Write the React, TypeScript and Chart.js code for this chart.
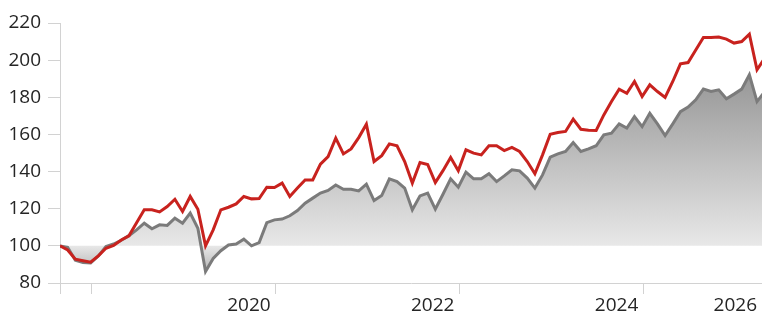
import { useEffect, useRef } from 'react';
import { Chart, registerables } from 'chart.js';

Chart.register(...registerables);

// Monthly index values, both series rebased to 100 at the first observation
const fund = [
  100, 97.8, 92.8, 92, 91.2, 94.6, 98.7, 100.2, 103.2, 105.4,
  112.5, 119.4, 119.4, 118.3, 121.2, 125.1, 118.5, 126.6, 119.7, 100,
  108.6, 119.4, 120.8, 122.6, 126.6, 125.3, 125.5, 131.6, 131.4, 133.8,
  126.6, 131.1, 135.5, 135.5, 144, 148.1, 158, 149.5, 152.2, 158.3,
  165.5, 145.4, 148.6, 154.9, 153.9, 145.4, 133.8, 144.9, 143.8, 134.1,
  140.5, 147.6, 140.5, 151.7, 149.9, 149, 153.9, 153.9, 151.3, 153,
  150.8, 145.4, 138.8, 149, 160.1, 161, 161.6, 168.2, 162.8, 162.3,
  162.1, 170.5, 177.7, 184.4, 182.2, 188.5, 180.4, 186.7, 183.1, 179.9,
  188.5, 198, 198.7, 205.5, 212.2, 212.2, 212.4, 211.3, 209.2, 210,
  214, 194.8, 201,
];

const benchmark = [
  100, 99.2, 92.3, 91, 90.8, 94.5, 99.6, 101, 103, 105.5,
  108.6, 112.2, 109.2, 111.3, 111, 114.9, 112.2, 117.6, 109.5, 86.2,
  93.2, 97.4, 100.5, 101, 103.6, 100, 101.8, 112.5, 114, 114.4,
  116.2, 119, 123, 125.7, 128.4, 129.8, 132.8, 130.5, 130.5, 129.6,
  133.2, 124.4, 127.1, 136.1, 134.6, 131.1, 119.4, 126.9, 128.4, 119.8,
  127.8, 136.1, 131.6, 139.7, 136.1, 136.1, 138.8, 134.6, 137.7, 141,
  140.4, 136.5, 131.1, 138.2, 147.8, 149.5, 150.8, 155.6, 150.8, 152.2,
  153.9, 159.8, 160.7, 165.7, 163.4, 169.6, 164.2, 171.4, 165.7, 159.4,
  165.7, 172.3, 174.7, 178.6, 184.4, 183.1, 184, 179.2, 181.7, 184.4,
  192.1, 177.7, 183,
];

// x axis: months since the first observation; tick marks at year starts
const xMax = 91.65;
const xTickMonths = [0, 4.15, 28.15, 52.15, 76.15, xMax];
const xTickLabels = ['', '', '2020', '2022', '2024', '2026'];

const yMin = 80;
const yMax = 220;
const yStep = 20;
const baseline = 100;

export default function App() {
  const ref = useRef<HTMLCanvasElement>(null);

  useEffect(() => {
    const canvas = ref.current;
    if (!canvas) return;
    const font = { family: '"Open Sans", sans-serif', size: 19 };
    const axisGray = '#d2d2d2';
    const textColor = '#252525';

    const fillGradient = (ctx: any) => {
      const chart = ctx.chart;
      const area = chart.chartArea;
      const ys = chart.scales?.y;
      if (!area || !ys) return 'rgba(180,180,180,0.6)';
      const g = chart.ctx.createLinearGradient(0, area.top, 0, area.bottom);
      let p = (ys.getPixelForValue(baseline) - area.top) / (area.bottom - area.top);
      p = Math.min(Math.max(p, 0), 1);
      g.addColorStop(0, '#7e7e7e');
      g.addColorStop(p, '#e8e8e8');
      g.addColorStop(1, '#9c9c9c');
      return g;
    };

    const chart = new Chart(canvas, {
      type: 'line',
      data: {
        datasets: [
          {
            label: 'Fund',
            data: fund.map((y, i) => ({ x: i, y })),
            borderColor: '#c8221e',
            borderWidth: 3,
            pointRadius: 0,
            tension: 0,
            fill: false,
            order: 0,
          },
          {
            label: 'Benchmark',
            data: benchmark.map((y, i) => ({ x: i, y })),
            borderColor: '#7b7b7b',
            borderWidth: 3,
            pointRadius: 0,
            tension: 0,
            fill: { value: baseline },
            backgroundColor: fillGradient,
            order: 1,
          },
        ],
      },
      options: {
        responsive: false,
        animation: false,
        devicePixelRatio: 1,
        layout: { padding: { top: 23, left: 0, right: 0, bottom: 0 } },
        plugins: {
          legend: { display: false },
          tooltip: { enabled: false },
        },
        scales: {
          x: {
            type: 'linear',
            min: 0,
            max: xMax,
            afterBuildTicks: (s: any) => {
              s.ticks = xTickMonths.map((v) => ({ value: v }));
            },
            afterFit: (s: any) => {
              s.height = 33;
            },
            ticks: {
              autoSkip: false,
              maxRotation: 0,
              minRotation: 0,
              align: 'end',
              labelOffset: -5,
              padding: 0,
              font,
              color: textColor,
              callback: (_v: any, i: number) => xTickLabels[i],
            },
            grid: {
              drawOnChartArea: false,
              tickLength: 11,
              color: (c: any) => (c.index === xTickMonths.length - 1 ? 'rgba(0,0,0,0)' : axisGray),
            },
            border: { color: axisGray },
          },
          y: {
            min: yMin,
            max: yMax,
            afterFit: (s: any) => {
              s.width = 60;
            },
            ticks: {
              stepSize: yStep,
              padding: 7,
              font,
              color: textColor,
            },
            grid: {
              drawOnChartArea: false,
              tickLength: 12,
              color: axisGray,
            },
            border: { color: axisGray },
          },
        },
      } as any,
    });
    return () => chart.destroy();
  }, []);

  return (
    <div style={{ position: 'fixed', left: 0, top: 0, width: 762, height: 316, background: '#fff' }}>
      <canvas ref={ref} width={762} height={316} style={{ display: 'block' }} />
    </div>
  );
}
